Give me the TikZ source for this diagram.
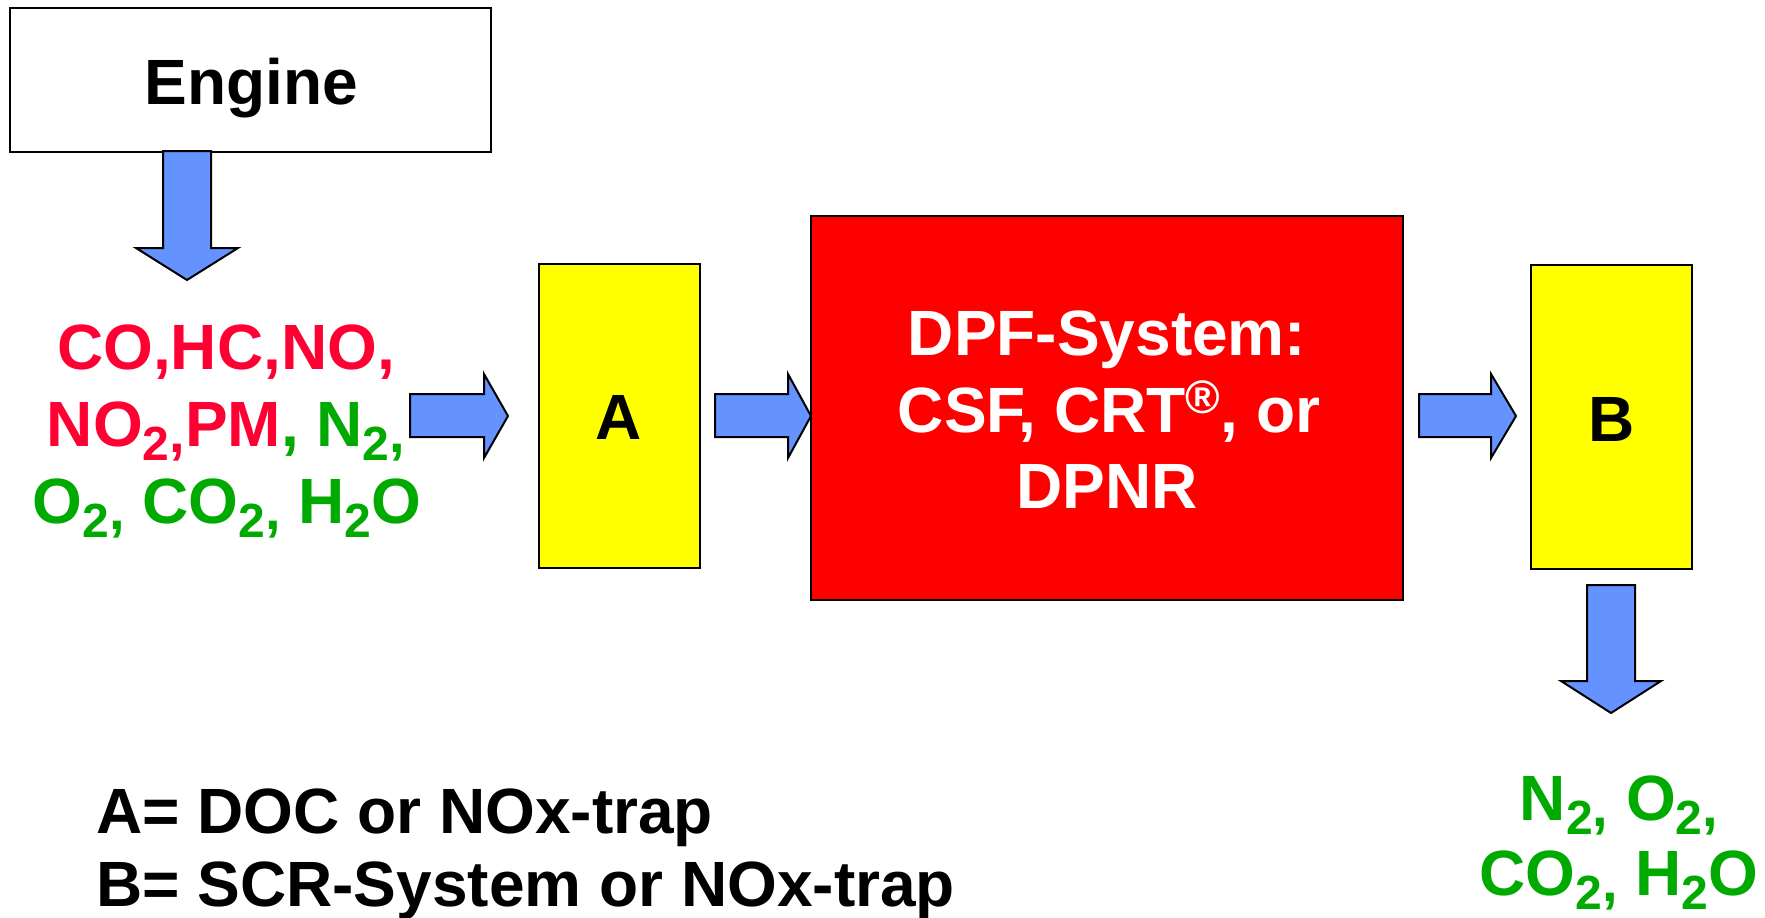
\documentclass[tikz,border=0pt]{standalone}
\usepackage{fontspec}
\setmainfont{Liberation Sans}
\definecolor{arrowblue}{RGB}{100,146,255}
\definecolor{txtred}{RGB}{255,0,51}
\definecolor{txtgreen}{RGB}{0,170,0}
\definecolor{boxyellow}{RGB}{255,255,0}
\definecolor{boxred}{RGB}{255,0,0}
\newcommand{\lowtwo}{\raisebox{-14pt}{\fontsize{48}{48}\selectfont 2}}
\newcommand{\lowcomma}{\raisebox{-6pt}{\fontsize{56}{56}\selectfont ,}}
\newcommand{\regmark}{\raisebox{19pt}{\fontsize{47}{47}\selectfont ®}}
\tikzset{
  big/.style={font=\fontsize{64}{77}\selectfont\bfseries, inner sep=0pt, anchor=base},
  blockbox/.style={draw=black, line width=2pt, inner sep=0pt},
  blockarrow/.style={draw=black, line width=2pt, fill=arrowblue, line join=miter},
}
\begin{document}
\begin{tikzpicture}[x=1pt,y=-1pt]
\useasboundingbox (0,0) rectangle (1765,918);
% boxes
\node[blockbox, fill=white, minimum width=481pt, minimum height=144pt] (engine) at (250.5,79.5) {};
\node[blockbox, fill=boxyellow, minimum width=161pt, minimum height=304pt] (boxA) at (619.5,416) {};
\node[blockbox, fill=boxred, minimum width=592pt, minimum height=384pt] (dpf) at (1107,408) {};
\node[blockbox, fill=boxyellow, minimum width=161pt, minimum height=304pt] (boxB) at (1611.5,416.5) {};
% labels
\node[big] (engtxt) at (251,104) {Engine};
\node[big] (atxt) at (619,439) {A};
\node[big] (btxt) at (1612,441) {B};
\node[big, text=white] (dpf1) at (1107,355) {DPF-System:};
\node[big, text=white] (dpf2) at (1109,432) {CSF, CRT\regmark, or};
\node[big, text=white] (dpf3) at (1107,508) {DPNR};
% exhaust mixture
\node[big, text=txtred] (mix1) at (226,369) {CO,HC,NO,};
\node[big, text=txtred] (mix2) at (226,446) {NO\lowtwo\lowcomma PM\textcolor{txtgreen}{, N\lowtwo\lowcomma}};
\node[big, text=txtgreen] (mix3) at (227,523) {O\lowtwo\lowcomma{} CO\lowtwo\lowcomma{} H\lowtwo O};
% products
\node[big, text=txtgreen] (out1) at (1619,820) {N\lowtwo\lowcomma{} O\lowtwo\lowcomma};
\node[big, text=txtgreen] (out2) at (1619,895) {CO\lowtwo\lowcomma{} H\lowtwo O};
% legend
\node[big, anchor=base west] (legA) at (96,833) {A= DOC or NOx-trap};
\node[big, anchor=base west] (legB) at (96,906) {B= SCR-System or NOx-trap};
% block arrows
\draw[blockarrow] (163,151) -- (211,151) -- (211,248) -- (238,248) -- (187,280) -- (136,248) -- (163,248) -- cycle;
\draw[blockarrow] (410,394) -- (484,394) -- (484,374) -- (508,416) -- (484,458) -- (484,437) -- (410,437) -- cycle;
\draw[blockarrow] (715,394) -- (788,394) -- (788,374) -- (811,416) -- (788,458) -- (788,437) -- (715,437) -- cycle;
\draw[blockarrow] (1419,394) -- (1491,394) -- (1491,374) -- (1516,416) -- (1491,458) -- (1491,437) -- (1419,437) -- cycle;
\draw[blockarrow] (1587,585) -- (1635,585) -- (1635,681) -- (1661,681) -- (1611,713) -- (1561,681) -- (1587,681) -- cycle;
\end{tikzpicture}
\end{document}
